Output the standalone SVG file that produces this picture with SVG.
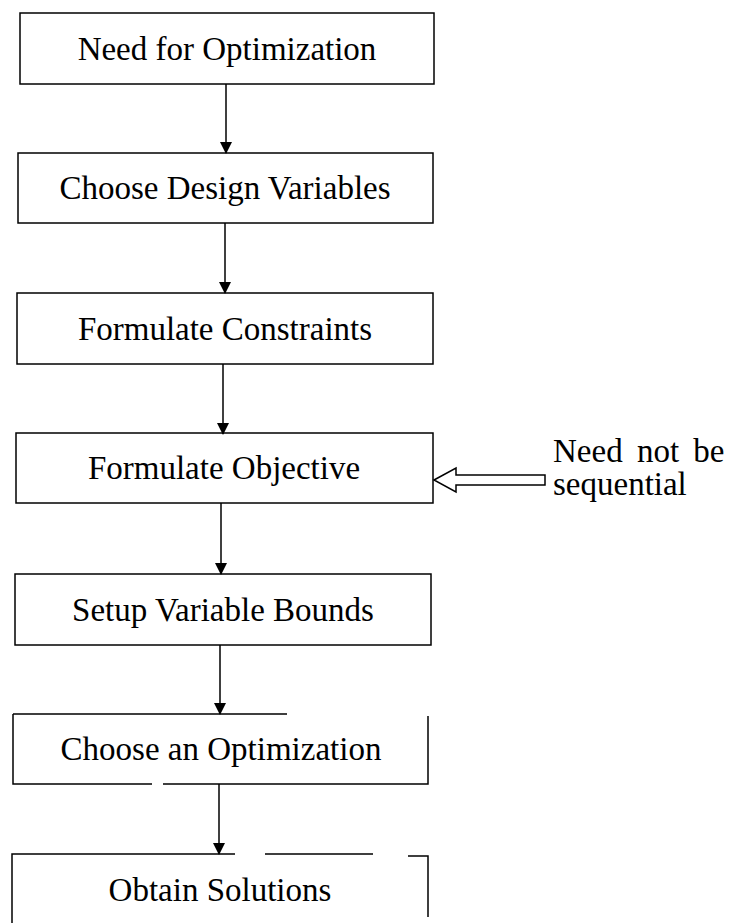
<svg xmlns="http://www.w3.org/2000/svg" width="739" height="923" viewBox="0 0 739 923">
<style>
.box{fill:none;stroke:#000;stroke-width:1.5}
.ln{fill:none;stroke:#000;stroke-width:1.5}
.t{font-family:"Liberation Serif","Times New Roman",serif;font-size:33px;fill:#000;text-anchor:middle}
.n{font-family:"Liberation Serif","Times New Roman",serif;font-size:33px;fill:#000}
.c{stroke:#000;stroke-width:1.5;fill:none}
</style>
<defs>
<marker id="ah" markerWidth="12" markerHeight="14" refX="11" refY="6" orient="auto" markerUnits="userSpaceOnUse">
<path d="M0,0 L12,6 L0,12 Z" fill="#000"/>
</marker>
</defs>
<rect width="739" height="923" fill="#fff"/>
<g id="connectors">
<line class="c" x1="226" y1="84" x2="226" y2="153" marker-end="url(#ah)"/>
<line class="c" x1="225" y1="223" x2="225" y2="293" marker-end="url(#ah)"/>
<line class="c" x1="223" y1="364" x2="223" y2="434" marker-end="url(#ah)"/>
<line class="c" x1="221" y1="503" x2="221" y2="574" marker-end="url(#ah)"/>
<line class="c" x1="220" y1="645" x2="220" y2="714" marker-end="url(#ah)"/>
<line class="c" x1="219" y1="784" x2="219" y2="854" marker-end="url(#ah)"/>
<path class="c" d="M434,480 L456,468 L456,475 L545,475 L545,485 L456,485 L456,492 Z"/>
</g>
<g id="n1"><rect class="box" x="20" y="13" width="414" height="71"/><text class="t" x="227" y="60">Need for Optimization</text></g>
<g id="n2"><rect class="box" x="18" y="153" width="415" height="70"/><text class="t" x="225" y="199">Choose Design Variables</text></g>
<g id="n3"><rect class="box" x="17" y="293" width="416" height="71"/><text class="t" x="225" y="340">Formulate Constraints</text></g>
<g id="n4"><rect class="box" x="16" y="433" width="417" height="70"/><text class="t" x="224" y="479">Formulate Objective</text></g>
<g id="n5"><rect class="box" x="15" y="574" width="416" height="71"/><text class="t" x="223" y="621">Setup Variable Bounds</text></g>
<g id="n6"><path class="ln" d="M13,714 L287,714 M428,716 L428,784 L163,784 M152,784 L13,784 L13,714"/><text class="t" x="221" y="760">Choose an Optimization</text></g>
<g id="n7"><path class="ln" d="M12,923 L12,854 L235,854 M265,854 L373,854 M408,856 L428,856 L428,917"/><text class="t" x="220" y="901">Obtain Solutions</text></g>
<g id="note"><text class="n" x="553" y="462" word-spacing="6">Need not be</text><text class="n" x="553" y="495">sequential</text></g>
</svg>
